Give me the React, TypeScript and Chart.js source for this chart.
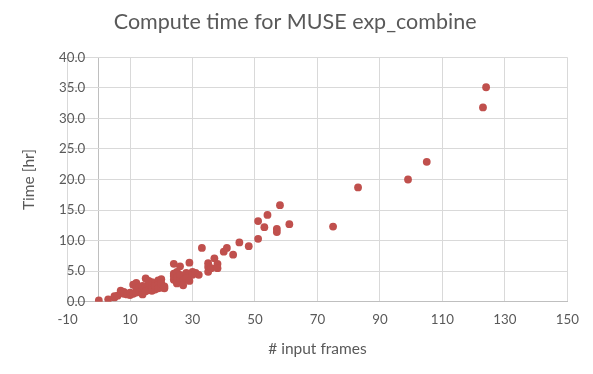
import React, { useEffect, useRef } from "react";
import { Chart, registerables } from "chart.js";

Chart.register(...registerables);

const chartTitle = "Compute time for MUSE exp_combine";
const xAxisTitle = "# input frames";
const yAxisTitle = "Time [hr]";

const inputFrames = [
  0, 3, 5, 5, 6, 7, 8, 8, 9, 10,
  10, 11, 11, 12, 12, 12, 13, 13, 14, 14,
  14, 15, 15, 15, 16, 16, 16, 17, 17, 17,
  18, 18, 18, 19, 19, 19, 20, 20, 20, 21,
  21, 24, 24, 24, 24, 25, 25, 25, 25, 26,
  26, 26, 27, 27, 28, 28, 29, 29, 30, 30,
  31, 32, 33, 35, 35, 35, 36, 37, 38, 38,
  40, 41, 43, 45, 48, 51, 51, 53, 54, 57,
  57, 58, 61, 75, 83, 99, 105, 123, 124,
];

const timeHours = [
  0.2, 0.4, 0.7, 0.9, 1.0, 1.8, 1.3, 1.6, 1.2, 1.1,
  1.5, 1.3, 2.8, 1.5, 3.1, 2.2, 2.4, 1.6, 2.0, 1.2,
  2.6, 3.8, 2.5, 1.7, 2.7, 1.9, 3.4, 3.2, 2.2, 1.8,
  2.0, 3.0, 2.6, 3.5, 2.8, 2.2, 2.3, 3.7, 3.0, 2.2,
  2.5, 6.2, 4.6, 3.6, 4.2, 3.0, 4.9, 3.3, 4.0, 5.8,
  3.9, 4.4, 3.5, 2.7, 4.7, 3.9, 6.4, 3.4, 4.9, 4.4,
  4.7, 4.4, 8.8, 6.3, 5.7, 4.9, 5.5, 7.1, 6.2, 5.5,
  8.2, 8.8, 7.7, 9.7, 9.1, 13.2, 10.3, 12.2, 14.2, 11.9,
  11.4, 15.8, 12.7, 12.3, 18.7, 20.0, 22.9, 31.8, 35.1,
];

const xTickValues = [-10, 10, 30, 50, 70, 90, 110, 130, 150];
const xTickLabels = ["-10", "10", "30", "50", "70", "90", "110", "130", "150"];
const yTickValues = [0, 5, 10, 15, 20, 25, 30, 35, 40];
const yTickLabels = ["0.0", "5.0", "10.0", "15.0", "20.0", "25.0", "30.0", "35.0", "40.0"];
const yAxisCrossing = 0;

const TEXT = "#595959";
const GRID = "#d9d9d9";
const AXIS = "#bfbfbf";
const MARKER = "#C0504D";
const FONT = "Lato, 'Open Sans', sans-serif";
const TICK_SIZE = 13.3;

const PAD_LEFT = 23;
const AREA_LEFT = 67.6;
const Y_LABEL_RIGHT = 85.3;

export default function App() {
  const ref = useRef<HTMLCanvasElement>(null);

  useEffect(() => {
    document.body.style.margin = "0";
    const canvas = ref.current;
    if (!canvas) return;

    const mctx = document.createElement("canvas").getContext("2d")!;
    mctx.font = `${TICK_SIZE}px ${FONT}`;
    const widest = Math.max(...yTickLabels.map((l) => mctx.measureText(l).width));

    const points = inputFrames.map((x, i) => ({ x, y: timeHours[i] }));
    const chart = new Chart(canvas, {
      type: "scatter",
      data: {
        datasets: [
          {
            data: points,
            xAxisID: "x",
            yAxisID: "y",
            backgroundColor: MARKER,
            borderColor: MARKER,
            borderWidth: 0,
            pointRadius: 3.9,
            pointHoverRadius: 3.9,
          },
        ],
      },
      options: {
        animation: false,
        responsive: false,
        devicePixelRatio: 1,
        layout: { padding: { left: PAD_LEFT, right: 25.7, top: 0, bottom: 15.7 } },
        plugins: {
          legend: { display: false },
          tooltip: { enabled: false },
          title: {
            display: true,
            text: chartTitle,
            color: TEXT,
            font: { family: FONT, size: 21.5, weight: "normal" },
            padding: { top: 9.1, bottom: 22.4 },
          },
        },
        scales: {
          x: {
            type: "linear",
            position: "bottom",
            min: -10,
            max: 150,
            afterBuildTicks: (s: any) => {
              s.ticks = [...xTickValues, yAxisCrossing]
                .sort((a, b) => a - b)
                .map((v) => ({ value: v }));
            },
            ticks: {
              color: TEXT,
              font: { family: FONT, size: TICK_SIZE },
              padding: 10,
              maxRotation: 0,
              autoSkip: false,
              callback: (v: any) => {
                const i = xTickValues.indexOf(Number(v));
                return i >= 0 ? xTickLabels[i] : "";
              },
            },
            grid: {
              color: (c: any) => (c.tick && c.tick.value === yAxisCrossing ? AXIS : GRID),
              drawTicks: false,
              tickLength: 0,
            },
            border: { color: AXIS },
            title: {
              display: true,
              text: xAxisTitle,
              color: TEXT,
              font: { family: FONT, size: 15.5 },
              padding: { top: 2, bottom: 0 },
            },
          },
          y: {
            type: "linear",
            position: "left",
            min: 0,
            max: 40,
            afterBuildTicks: (s: any) => {
              s.ticks = yTickValues.map((v) => ({ value: v }));
            },
            afterFit: (s: any) => {
              s.width = AREA_LEFT - PAD_LEFT;
            },
            ticks: {
              color: TEXT,
              font: { family: FONT, size: TICK_SIZE },
              mirror: true,
              crossAlign: "far",
              padding: Y_LABEL_RIGHT - AREA_LEFT - widest,
              callback: (v: any) => {
                const i = yTickValues.indexOf(Number(v));
                return i >= 0 ? yTickLabels[i] : "";
              },
            },
            grid: { color: GRID, drawTicks: false, tickLength: 0 },
            border: { color: GRID },
            title: {
              display: true,
              text: yAxisTitle,
              color: TEXT,
              font: { family: FONT, size: 15.5 },
              padding: { top: 29.3 - PAD_LEFT - 9.3, bottom: 0 },
            },
          },
        },
      },
    });
    return () => chart.destroy();
  }, []);

  return <canvas ref={ref} width={593} height={374} style={{ display: "block" }} />;
}
